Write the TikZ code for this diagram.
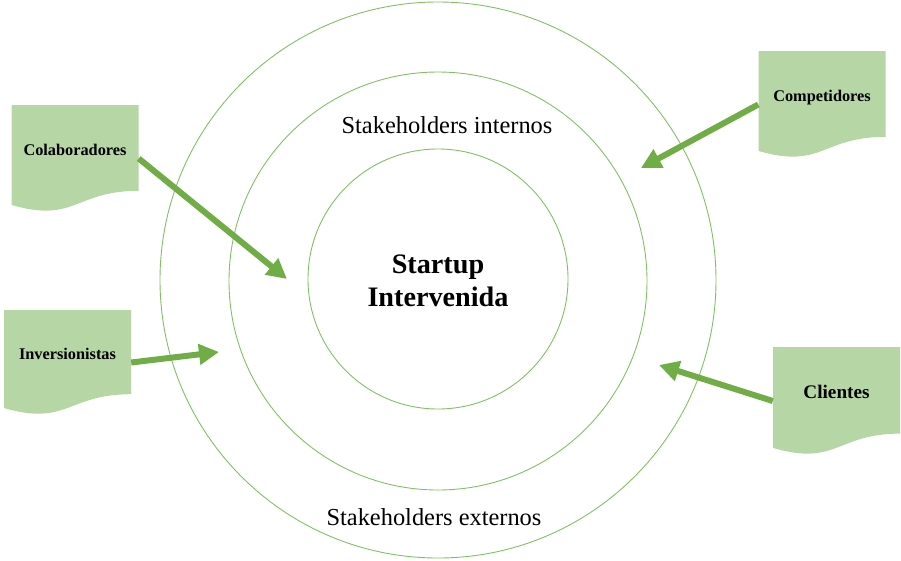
\documentclass[tikz,border=0pt]{standalone}
\usepackage{fontspec}
\setmainfont{Liberation Serif}
\usetikzlibrary{arrows.meta,calc}
\definecolor{verdehoja}{RGB}{183,214,166}
\definecolor{verdeflecha}{RGB}{112,173,71}
\definecolor{verdeanillo}{RGB}{130,192,102}

\begin{document}
\begin{tikzpicture}[x=1pt, y=-1pt,
    anillo/.style={circle, draw=verdeanillo, line width=0.9pt, inner sep=0pt},
    documento/.style={rectangle, inner sep=0pt, minimum width=127pt, minimum height=107pt,
      text height=12pt, text depth=18pt, font=\fontsize{16.3}{18}\selectfont\bfseries,
      path picture={\fill[verdehoja] (path picture bounding box.north west)
        -- (path picture bounding box.north east)
        -- ($(path picture bounding box.north east)!0.802!(path picture bounding box.south east)$)
        .. controls ($(path picture bounding box.north)!0.802!(path picture bounding box.south)$)
        and ($(path picture bounding box.north)!1.1075!(path picture bounding box.south)$)
        .. ($(path picture bounding box.north west)!0.934!(path picture bounding box.south west)$)
        -- cycle;}},
    flecha/.style={line width=6pt, draw=verdeflecha, -{Triangle[length=20pt, width=20pt]}},
    rotulo/.style={font=\fontsize{24.4}{28}\selectfont}]
  \useasboundingbox (0,0) rectangle (901,560);
  % anillos
  \node[anillo, minimum size=556pt] (externo) at (438,280) {};
  \node[anillo, minimum size=418pt] (interno) at (438,281) {};
  \node[anillo, minimum size=260pt] (nucleo) at (438,279) {};
  \node[font=\fontsize{28.2}{33}\selectfont\bfseries, align=center] (startup) at (438,281) {Startup\\Intervenida};
  \node[rotulo] (internos) at (447,125) {Stakeholders internos};
  \node[rotulo] (externos) at (434,517) {Stakeholders externos};
  % documentos
  \node[documento] (colab) at (75,158.5) {Colaboradores};
  \node[documento] (comp) at (822,104.5) {Competidores};
  \node[documento, minimum height=105pt] (inv) at (67.5,362.5) {Inversionistas};
  \node[documento, minimum height=108pt, font=\fontsize{19.2}{21}\selectfont\bfseries] (cli) at (836.5,401) {Clientes};
  % flechas
  \coordinate (pColab) at (287,279);
  \coordinate (pInv) at (219,352);
  \coordinate (pComp) at (641,168);
  \coordinate (pCli) at (659,365);
  \draw[flecha] (colab.east) -- (pColab);
  \draw[flecha] (inv.east) -- (pInv);
  \draw[flecha] (comp.west) -- (pComp);
  \draw[flecha] (cli.west) -- (pCli);
\end{tikzpicture}
\end{document}
